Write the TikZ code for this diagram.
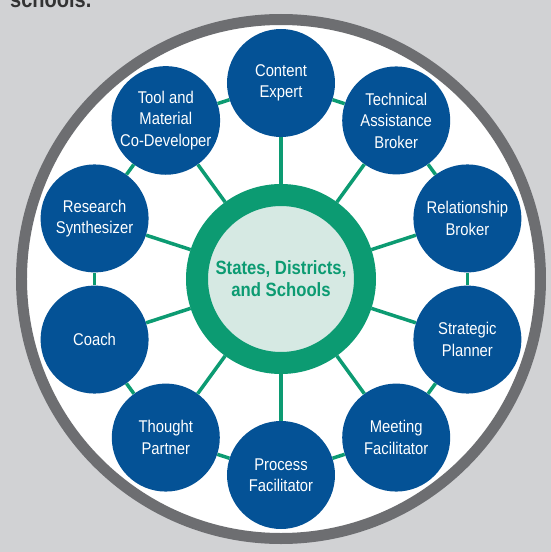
\documentclass[tikz,border=0pt]{standalone}
\usepackage{fontspec}
\usepackage{tikz}
\usepackage{xcolor}
\newfontfamily\cond{Liberation Sans}[FakeStretch=0.87]

\definecolor{bggray}{RGB}{209,210,212}
\definecolor{ringgray}{RGB}{109,110,113}
\definecolor{roleblue}{RGB}{4,82,150}
\definecolor{linkgreen}{RGB}{12,155,114}
\definecolor{hubfill}{RGB}{214,233,227}

\begin{document}
\begin{tikzpicture}[x=1pt, y=1pt]

\tikzstyle{every node} = [circle, inner sep=0pt, align=center, font=\cond\fontsize{17}{21.5}\selectfont]
\tikzstyle{role} = [fill=roleblue, text=white, minimum size=108pt]
\tikzstyle{link} = [draw=linkgreen, line width=3.5pt]

\useasboundingbox (-281,-273) rectangle (270,279);
\clip (-281,-273) rectangle (270,279);
\fill[bggray] (-281,-273) rectangle (270,279);

\node[rectangle, anchor=base west, text=black!80, font=\cond\bfseries\fontsize{23}{27}\selectfont] (title) at (-271,271) {schools.};

\node[draw=ringgray, line width=11pt, fill=white, minimum size=519pt] (ring) at (0,0) {};

\node[draw=linkgreen, line width=22pt, fill=hubfill, minimum size=168pt, text=linkgreen, font=\cond\bfseries\fontsize{19.2}{22}\selectfont] (hub) at (0,0) {States, Districts,\\and Schools};

\node[role] (ce) at (90:196pt) {Content\\Expert};
\node[role] (tab) at (54:196pt) {Technical\\Assistance\\Broker};
\node[role] (rb) at (18:196pt) {Relationship\\Broker};
\node[role] (sp) at (-18:196pt) {Strategic\\Planner};
\node[role] (mf) at (-54:196pt) {Meeting\\Facilitator};
\node[role] (pf) at (-90:196pt) {Process\\Facilitator};
\node[role] (tp) at (-126:196pt) {Thought\\Partner};
\node[role] (co) at (-162:196pt) {Coach};
\node[role] (rs) at (162:196pt) {Research\\Synthesizer};
\node[role] (tm) at (126:196pt) {Tool and\\Material\\Co-Developer};

\draw[link] (hub) -- (ce);
\draw[link] (hub) -- (tab);
\draw[link] (hub) -- (rb);
\draw[link] (hub) -- (sp);
\draw[link] (hub) -- (mf);
\draw[link] (hub) -- (pf);
\draw[link] (hub) -- (tp);
\draw[link] (hub) -- (co);
\draw[link] (hub) -- (rs);
\draw[link] (hub) -- (tm);

\draw[link] (ce) -- (tab);
\draw[link] (tab) -- (rb);
\draw[link] (rb) -- (sp);
\draw[link] (sp) -- (mf);
\draw[link] (mf) -- (pf);
\draw[link] (pf) -- (tp);
\draw[link] (tp) -- (co);
\draw[link] (co) -- (rs);
\draw[link] (rs) -- (tm);
\draw[link] (tm) -- (ce);

\end{tikzpicture}
\end{document}
